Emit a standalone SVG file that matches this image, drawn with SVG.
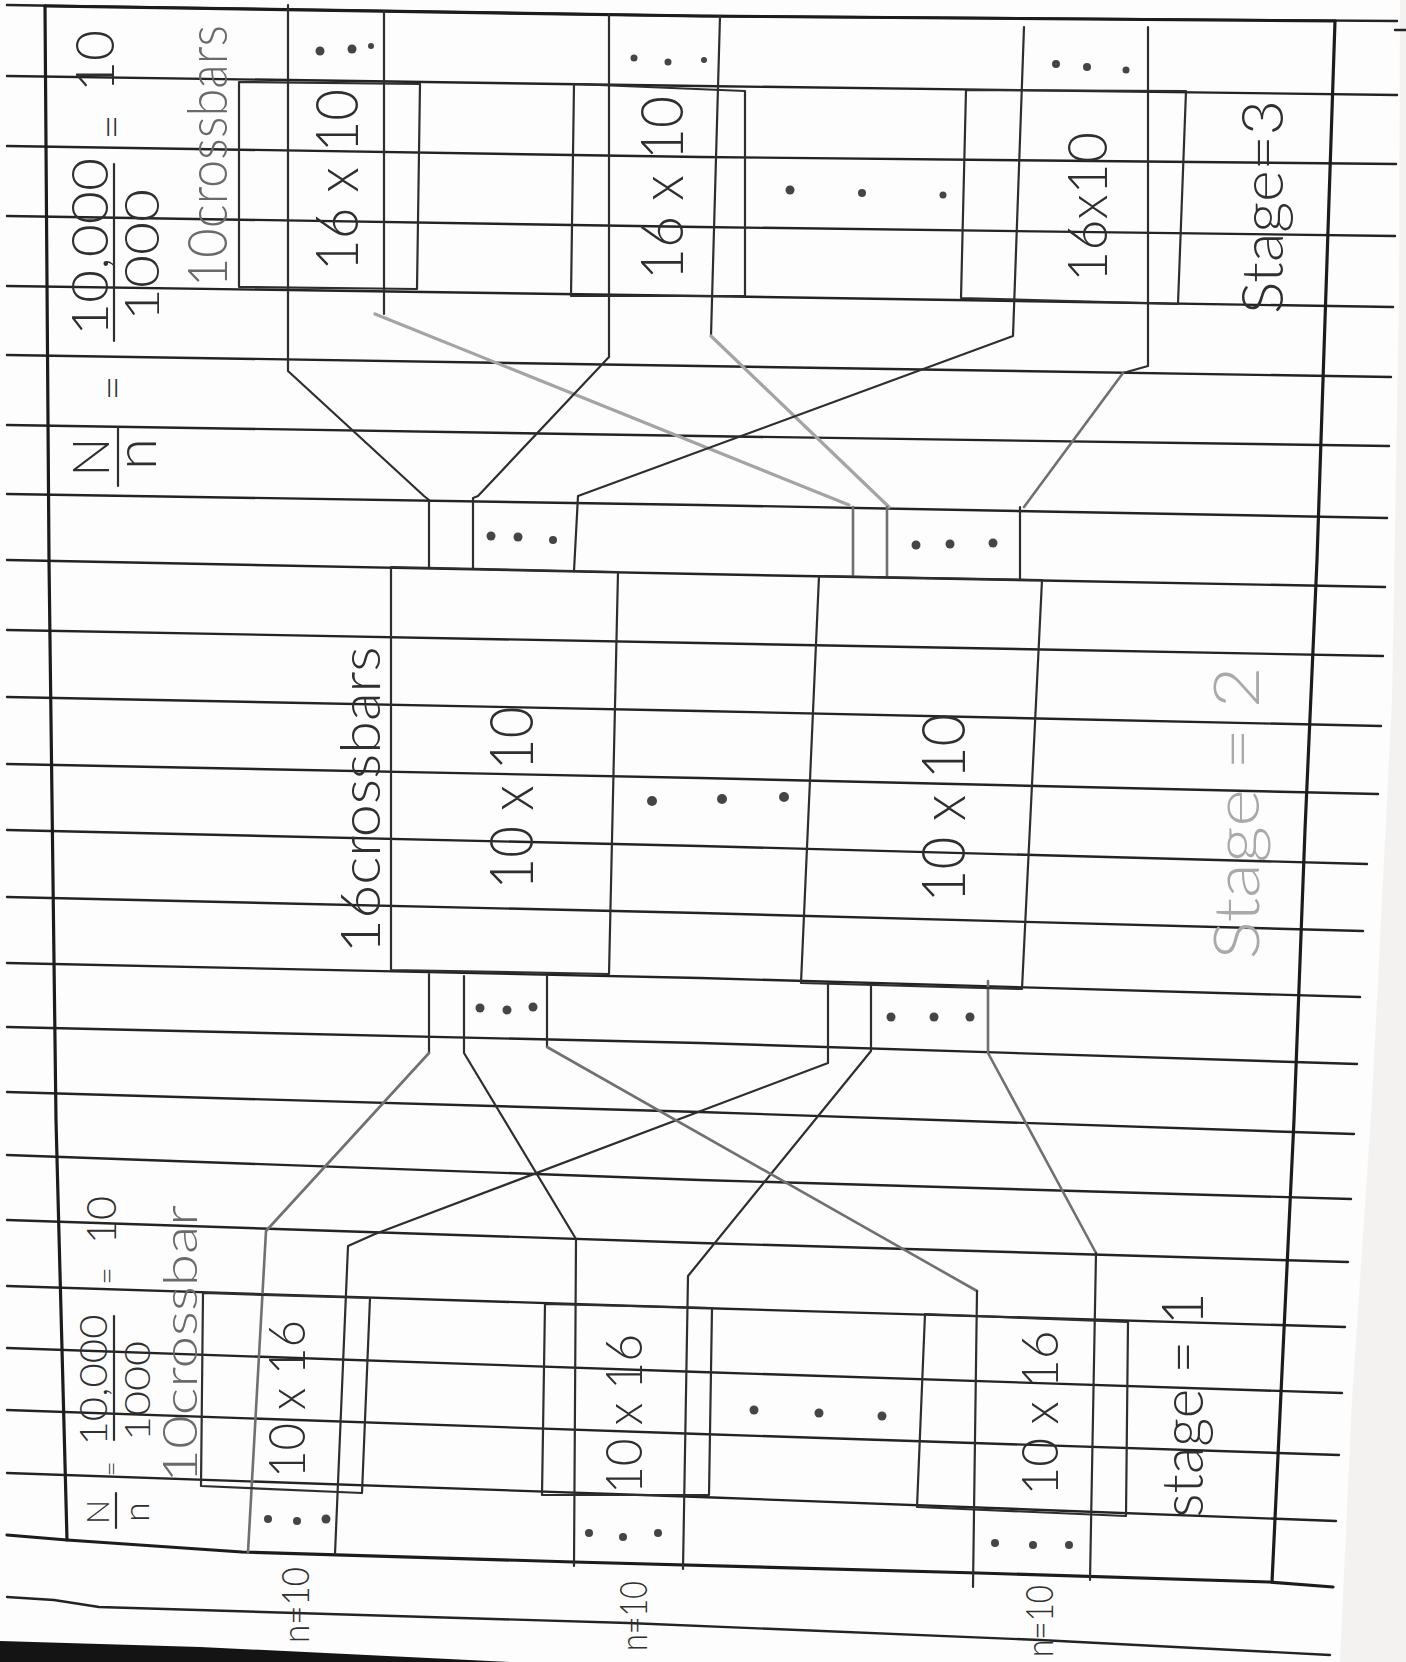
<svg xmlns="http://www.w3.org/2000/svg" width="1406" height="1662" viewBox="0 0 1406 1662">
<style>
.rule{fill:none;stroke:#232323;stroke-width:2.4;stroke-linecap:round;stroke-linejoin:round}
.frame{fill:none;stroke:#1c1c1c;stroke-width:3.2;stroke-linecap:round;stroke-linejoin:round}
.pen{fill:none;stroke:#2e2e2e;stroke-width:2.2;stroke-linejoin:round;stroke-linecap:round}
.mid{stroke:#707070;stroke-width:2.6}
.light{stroke:#a4a4a4;stroke-width:3.2}
.box{fill:none;stroke:#2e2e2e;stroke-width:2.2;stroke-linejoin:round}
.t{font-family:Lato,"Liberation Sans",Arial,sans-serif;font-weight:300;fill:#2f2f2f;text-anchor:middle;dominant-baseline:central}
.tl{fill:#a9a9a9}
.tm{fill:#6a6a6a}
.dot{fill:#454545}
</style>
<rect x="0" y="0" width="1406" height="1662" fill="#f4f2f1"/>
<polygon points="0,0 1400,0 1399,300 1392,700 1372,1100 1352,1400 1340,1662 0,1662" fill="#fdfdfd"/>
<polygon points="0,1641 200,1647 510,1662 0,1662" fill="#141414"/>

<g id="paper-lines" class="rule">
<polyline points="7,5 700,16 1397,21"/>
<polyline points="7,76 700,86 1397,95"/>
<polyline points="7,146 700,157 1396,164"/>
<polyline points="7,216 700,227 1395,236"/>
<polyline points="7,286 700,296 1393,307"/>
<polyline points="7,355 700,366 1391,377"/>
<polyline points="7,425 700,436 1389,446"/>
<polyline points="7,494 700,505 1387,518"/>
<polyline points="7,560 700,574 1385,587"/>
<polyline points="7,630 700,643 1383,656"/>
<polyline points="7,697 700,711 1381,726"/>
<polyline points="7,764 700,778 1378,794"/>
<polyline points="7,830 700,846 1367,864"/>
<polyline points="7,897 700,913 1363,931"/>
<polyline points="7,963 700,978 1360,997"/>
<polyline points="7,1027 700,1043 1357,1064"/>
<polyline points="7,1092 700,1112 1354,1134"/>
<polyline points="7,1155 700,1180 1351,1199"/>
<polyline points="7,1220 700,1243 1348,1262"/>
<polyline points="7,1286 700,1308 1345,1327"/>
<polyline points="7,1348 700,1372 1342,1393"/>
<polyline points="7,1410 700,1434 1339,1455"/>
<polyline points="7,1473 700,1497 1336,1521"/>
<polyline points="7,1597 54,1600 99,1607 628,1623 1040,1640 1330,1655"/>
<line x1="1395" y1="30" x2="1406" y2="30"/>
</g>

<g id="frame" class="frame">
<polyline points="45,6 700,16 1335,21"/>
<polyline points="45,6 49,560 56,1120 67,1540"/>
<polyline points="1335,21 1317,560 1305,830 1294,1120 1272,1582"/>
<polyline points="7,1535 67,1540 242,1552 574,1562 978,1573 1269,1582 1333,1587"/>
</g>

<g id="connectors">
<polyline class="pen" points="288,5 288,371 424,496 429,500 429,567"/>
<polyline class="pen" points="384,11 384,314"/>
<polyline class="pen light" points="375,314 849,505"/>
<polyline class="pen mid" points="853,507 853,576"/>
<polyline class="pen" points="609,14 609,357 478,496 473,498 473,568"/>
<polyline class="pen" points="720,16 711,336"/>
<polyline class="pen light" points="711,336 889,507"/>
<polyline class="pen mid" points="887,507 887,577"/>
<polyline class="pen" points="1024,27 1013,336 578,496 574,571"/>
<polyline class="pen" points="1148,27 1148,366 1123,373"/>
<polyline class="pen mid" points="1123,373 1024,507"/>
<polyline class="pen" points="1020,507 1020,580"/>
<polyline class="pen" points="429,974 429,1053"/>
<polyline class="pen mid" points="429,1053 266,1231 248,1552"/>
<polyline class="pen" points="828,983 828,1063 375,1234 348,1246 335,1554"/>
<polyline class="pen" points="464,976 464,1053 576,1239 574,1566"/>
<polyline class="pen" points="871,985 871,1051 688,1276 683,1569"/>
<polyline class="pen" points="547,976 547,1047"/>
<polyline class="pen mid" points="547,1047 977,1291"/>
<polyline class="pen" points="977,1291 973,1587"/>
<polyline class="pen mid" points="988,981 988,1053 1096,1253"/>
<polyline class="pen" points="1096,1253 1090,1580"/>
</g>

<g id="formula-stage3">
<text class="t" x="93" y="61" transform="rotate(-90 93 61)" font-size="54" textLength="62" lengthAdjust="spacingAndGlyphs">10</text>
<text class="t" x="110" y="127" transform="rotate(-90 110 127)" font-size="44">=</text>
<text class="t" x="88" y="247" transform="rotate(-90 88 247)" font-size="52" textLength="178" lengthAdjust="spacingAndGlyphs">10,000</text>
<line class="pen" x1="114" y1="164" x2="114" y2="341"/>
<text class="t" x="140" y="255" transform="rotate(-90 140 255)" font-size="48" textLength="132" lengthAdjust="spacingAndGlyphs">1000</text>
<text class="t" x="111" y="388" transform="rotate(-90 111 388)" font-size="44">=</text>
<text class="t" x="89" y="457" transform="rotate(-90 89 457)" font-size="52">N</text>
<line class="pen" x1="118" y1="427" x2="118" y2="486"/>
<text class="t" x="133" y="454" transform="rotate(-90 133 454)" font-size="58">n</text>
<text class="t tm" x="205" y="156" transform="rotate(-90 205 156)" font-size="56" textLength="262" lengthAdjust="spacingAndGlyphs">10crossbars</text>
</g>

<g id="s3-unit1">
<polygon class="box" points="239,82 420,84 417,289 239,287"/>
<text class="t" x="335" y="180" transform="rotate(-90 335 180)" font-size="60" textLength="182" lengthAdjust="spacingAndGlyphs">16 x 10</text>
<circle class="dot" cx="320" cy="51" r="4.5"/><circle class="dot" cx="352" cy="49" r="4.5"/><circle class="dot" cx="371" cy="46" r="3"/>
</g>
<g id="s3-unit2">
<polygon class="box" points="574,84 745,91 745,296 571,296"/>
<text class="t" x="660" y="188" transform="rotate(-90 660 188)" font-size="60" textLength="184" lengthAdjust="spacingAndGlyphs">16 x 10</text>
<circle class="dot" cx="634" cy="58" r="3.5"/><circle class="dot" cx="668" cy="62" r="3.5"/><circle class="dot" cx="704" cy="60" r="3"/>
</g>
<g id="s3-dots">
<circle class="dot" cx="790" cy="190" r="4.5"/><circle class="dot" cx="862" cy="193" r="4"/><circle class="dot" cx="943" cy="195" r="3.5"/>
</g>
<g id="s3-unit3">
<polygon class="box" points="966,90 1186,91 1178,304 961,298"/>
<text class="t" x="1085" y="207" transform="rotate(-90 1085 207)" font-size="56" textLength="150" lengthAdjust="spacingAndGlyphs">16x10</text>
<circle class="dot" cx="1056" cy="64" r="4"/><circle class="dot" cx="1087" cy="67" r="4"/><circle class="dot" cx="1126" cy="70" r="3.5"/>
</g>
<g id="stage3-label">
<text class="t" x="1260" y="207" transform="rotate(-90 1260 207)" font-size="58" textLength="214" lengthAdjust="spacingAndGlyphs">Stage=3</text>
</g>

<g id="s2-in-ports">
<circle class="dot" cx="491" cy="536" r="4.5"/><circle class="dot" cx="518" cy="537" r="4.5"/><circle class="dot" cx="553" cy="540" r="4"/>
<circle class="dot" cx="916" cy="545" r="4.5"/><circle class="dot" cx="950" cy="544" r="4.5"/><circle class="dot" cx="993" cy="543" r="4.5"/>
</g>

<g id="s2-box1">
<polygon class="box" points="391,567 618,572 609,974 391,970"/>
<text class="t" x="509" y="798" transform="rotate(-90 509 798)" font-size="62" textLength="183" lengthAdjust="spacingAndGlyphs">10 x 10</text>
</g>
<g id="s2-dots">
<circle class="dot" cx="652" cy="801" r="5"/><circle class="dot" cx="722" cy="799" r="5"/><circle class="dot" cx="784" cy="797" r="5"/>
</g>
<g id="s2-box2">
<polygon class="box" points="819,576 1042,580 1022,989 801,983"/>
<text class="t" x="941" y="808" transform="rotate(-90 941 808)" font-size="62" textLength="189" lengthAdjust="spacingAndGlyphs">10 x 10</text>
</g>
<g id="s2-label">
<text class="t" x="358" y="800" transform="rotate(-90 358 800)" font-size="56" textLength="307" lengthAdjust="spacingAndGlyphs">16crossbars</text>
<text class="t tl" x="1234" y="813" transform="rotate(-90 1234 813)" font-size="64" textLength="293" lengthAdjust="spacingAndGlyphs">Stage = 2</text>
</g>

<g id="s2-out-ports">
<circle class="dot" cx="480" cy="1008" r="4.5"/><circle class="dot" cx="507" cy="1010" r="4.5"/><circle class="dot" cx="533" cy="1007" r="4.5"/>
<circle class="dot" cx="891" cy="1017" r="4.5"/><circle class="dot" cx="934" cy="1017" r="4.5"/><circle class="dot" cx="970" cy="1017" r="4.5"/>
</g>

<g id="formula-stage1">
<text class="t" x="100" y="1220" transform="rotate(-90 100 1220)" font-size="42" textLength="48" lengthAdjust="spacingAndGlyphs">10</text>
<text class="t" x="105" y="1276" transform="rotate(-90 105 1276)" font-size="30">=</text>
<text class="t" x="92" y="1380" transform="rotate(-90 92 1380)" font-size="38" textLength="131" lengthAdjust="spacingAndGlyphs">10,000</text>
<line class="pen" x1="114" y1="1316" x2="114" y2="1440"/>
<text class="t" x="136" y="1391" transform="rotate(-90 136 1391)" font-size="36" textLength="100" lengthAdjust="spacingAndGlyphs">1000</text>
<text class="t" x="110" y="1469" transform="rotate(-90 110 1469)" font-size="26">=</text>
<text class="t" x="96" y="1512" transform="rotate(-90 96 1512)" font-size="32">N</text>
<line class="pen" x1="116" y1="1493" x2="116" y2="1528"/>
<text class="t" x="135" y="1512" transform="rotate(-90 135 1512)" font-size="36">n</text>
<text class="t tm" x="178" y="1344" transform="rotate(-90 178 1344)" font-size="48" textLength="278" lengthAdjust="spacingAndGlyphs">10crossbar</text>
</g>

<g id="s1-unit1">
<polygon class="box" points="203,1293 370,1298 362,1493 201,1486"/>
<text class="t" x="285" y="1399" transform="rotate(-90 285 1399)" font-size="52" textLength="158" lengthAdjust="spacingAndGlyphs">10 x 16</text>
<circle class="dot" cx="268" cy="1519" r="4"/><circle class="dot" cx="297" cy="1521" r="4"/><circle class="dot" cx="326" cy="1519" r="4.5"/>
<text class="t" x="294" y="1605" transform="rotate(-90 294 1605)" font-size="38" textLength="76" lengthAdjust="spacingAndGlyphs">n=10</text>
</g>
<g id="s1-unit2">
<polygon class="box" points="545,1304 712,1308 709,1495 542,1495"/>
<text class="t" x="622" y="1414" transform="rotate(-90 622 1414)" font-size="52" textLength="160" lengthAdjust="spacingAndGlyphs">10 x 16</text>
<circle class="dot" cx="589" cy="1533" r="4"/><circle class="dot" cx="623" cy="1537" r="4"/><circle class="dot" cx="658" cy="1533" r="4"/>
<text class="t" x="632" y="1616" transform="rotate(-90 632 1616)" font-size="38" textLength="70" lengthAdjust="spacingAndGlyphs">n=10</text>
</g>
<g id="s1-dots">
<circle class="dot" cx="754" cy="1410" r="4.5"/><circle class="dot" cx="819" cy="1413" r="4.5"/><circle class="dot" cx="882" cy="1416" r="4.5"/>
</g>
<g id="s1-unit3">
<polygon class="box" points="925,1314 1128,1322 1126,1516 917,1507"/>
<text class="t" x="1038" y="1413" transform="rotate(-90 1038 1413)" font-size="52" textLength="165" lengthAdjust="spacingAndGlyphs">10 x 16</text>
<circle class="dot" cx="995" cy="1543" r="4"/><circle class="dot" cx="1033" cy="1545" r="4"/><circle class="dot" cx="1069" cy="1545" r="4"/>
<text class="t" x="1038" y="1621" transform="rotate(-90 1038 1621)" font-size="38" textLength="72" lengthAdjust="spacingAndGlyphs">n=10</text>
</g>
<g id="stage1-label">
<text class="t" x="1180" y="1405" transform="rotate(-90 1180 1405)" font-size="58" textLength="225" lengthAdjust="spacingAndGlyphs">stage = 1</text>
</g>
</svg>
